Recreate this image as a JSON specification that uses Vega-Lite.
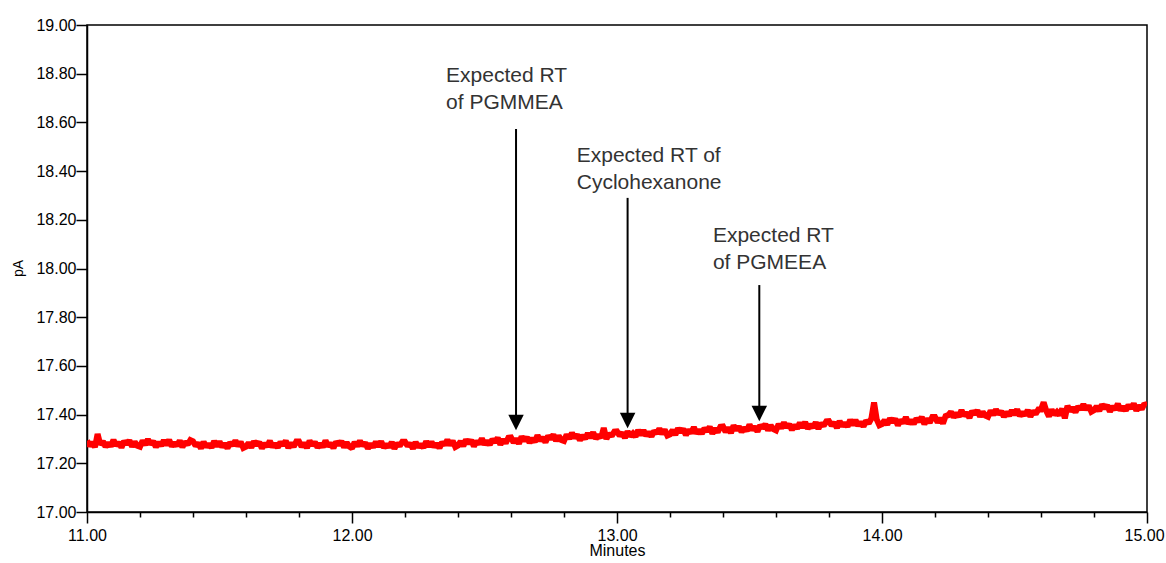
{
"$schema": "https://vega.github.io/schema/vega-lite/v6.json",
"width": 1060, "height": 487,
"autosize": "none",
"padding": {"left": 87, "top": 25, "right": 19, "bottom": 51},
"background": "white",
"config": {"view": {"stroke": "#000000", "strokeWidth": 1.5}, "font": "Liberation Sans"},
"datasets": {
"signal": [
{"t":11.00,"v":17.293},{"t":11.01,"v":17.271},{"t":11.02,"v":17.287},{"t":11.03,"v":17.266},{"t":11.04,"v":17.320},{"t":11.05,"v":17.277},{"t":11.06,"v":17.290},{"t":11.07,"v":17.268},{"t":11.08,"v":17.284},{"t":11.09,"v":17.270},
{"t":11.10,"v":17.296},{"t":11.11,"v":17.273},{"t":11.12,"v":17.286},{"t":11.13,"v":17.265},{"t":11.14,"v":17.291},{"t":11.15,"v":17.279},{"t":11.16,"v":17.294},{"t":11.17,"v":17.269},{"t":11.18,"v":17.288},{"t":11.19,"v":17.272},
{"t":11.20,"v":17.268},{"t":11.21,"v":17.293},{"t":11.22,"v":17.276},{"t":11.23,"v":17.298},{"t":11.24,"v":17.279},{"t":11.25,"v":17.290},{"t":11.26,"v":17.267},{"t":11.27,"v":17.286},{"t":11.28,"v":17.272},{"t":11.29,"v":17.294},
{"t":11.30,"v":17.275},{"t":11.31,"v":17.296},{"t":11.32,"v":17.270},{"t":11.33,"v":17.284},{"t":11.34,"v":17.273},{"t":11.35,"v":17.293},{"t":11.36,"v":17.266},{"t":11.37,"v":17.288},{"t":11.38,"v":17.277},{"t":11.39,"v":17.295},
{"t":11.40,"v":17.290},{"t":11.41,"v":17.272},{"t":11.42,"v":17.283},{"t":11.43,"v":17.261},{"t":11.44,"v":17.288},{"t":11.45,"v":17.268},{"t":11.46,"v":17.279},{"t":11.47,"v":17.265},{"t":11.48,"v":17.291},{"t":11.49,"v":17.270},
{"t":11.50,"v":17.289},{"t":11.51,"v":17.267},{"t":11.52,"v":17.281},{"t":11.53,"v":17.262},{"t":11.54,"v":17.285},{"t":11.55,"v":17.274},{"t":11.56,"v":17.293},{"t":11.57,"v":17.271},{"t":11.58,"v":17.288},{"t":11.59,"v":17.263},
{"t":11.60,"v":17.268},{"t":11.61,"v":17.284},{"t":11.62,"v":17.265},{"t":11.63,"v":17.290},{"t":11.64,"v":17.275},{"t":11.65,"v":17.287},{"t":11.66,"v":17.261},{"t":11.67,"v":17.282},{"t":11.68,"v":17.269},{"t":11.69,"v":17.292},
{"t":11.70,"v":17.267},{"t":11.71,"v":17.281},{"t":11.72,"v":17.265},{"t":11.73,"v":17.287},{"t":11.74,"v":17.274},{"t":11.75,"v":17.292},{"t":11.76,"v":17.263},{"t":11.77,"v":17.284},{"t":11.78,"v":17.268},{"t":11.79,"v":17.290},
{"t":11.80,"v":17.290},{"t":11.81,"v":17.268},{"t":11.82,"v":17.284},{"t":11.83,"v":17.263},{"t":11.84,"v":17.292},{"t":11.85,"v":17.274},{"t":11.86,"v":17.287},{"t":11.87,"v":17.265},{"t":11.88,"v":17.281},{"t":11.89,"v":17.267},
{"t":11.90,"v":17.293},{"t":11.91,"v":17.270},{"t":11.92,"v":17.283},{"t":11.93,"v":17.262},{"t":11.94,"v":17.288},{"t":11.95,"v":17.276},{"t":11.96,"v":17.291},{"t":11.97,"v":17.266},{"t":11.98,"v":17.285},{"t":11.99,"v":17.269},
{"t":12.00,"v":17.262},{"t":12.01,"v":17.287},{"t":12.02,"v":17.270},{"t":12.03,"v":17.292},{"t":12.04,"v":17.273},{"t":12.05,"v":17.284},{"t":12.06,"v":17.261},{"t":12.07,"v":17.280},{"t":12.08,"v":17.266},{"t":12.09,"v":17.288},
{"t":12.10,"v":17.269},{"t":12.11,"v":17.290},{"t":12.12,"v":17.264},{"t":12.13,"v":17.278},{"t":12.14,"v":17.267},{"t":12.15,"v":17.287},{"t":12.16,"v":17.260},{"t":12.17,"v":17.282},{"t":12.18,"v":17.271},{"t":12.19,"v":17.289},
{"t":12.20,"v":17.289},{"t":12.21,"v":17.271},{"t":12.22,"v":17.282},{"t":12.23,"v":17.260},{"t":12.24,"v":17.287},{"t":12.25,"v":17.267},{"t":12.26,"v":17.278},{"t":12.27,"v":17.264},{"t":12.28,"v":17.290},{"t":12.29,"v":17.269},
{"t":12.30,"v":17.288},{"t":12.31,"v":17.267},{"t":12.32,"v":17.281},{"t":12.33,"v":17.263},{"t":12.34,"v":17.286},{"t":12.35,"v":17.276},{"t":12.36,"v":17.296},{"t":12.37,"v":17.274},{"t":12.38,"v":17.292},{"t":12.39,"v":17.267},
{"t":12.40,"v":17.273},{"t":12.41,"v":17.290},{"t":12.42,"v":17.271},{"t":12.43,"v":17.297},{"t":12.44,"v":17.282},{"t":12.45,"v":17.295},{"t":12.46,"v":17.270},{"t":12.47,"v":17.291},{"t":12.48,"v":17.279},{"t":12.49,"v":17.302},
{"t":12.50,"v":17.277},{"t":12.51,"v":17.292},{"t":12.52,"v":17.276},{"t":12.53,"v":17.299},{"t":12.54,"v":17.286},{"t":12.55,"v":17.305},{"t":12.56,"v":17.277},{"t":12.57,"v":17.298},{"t":12.58,"v":17.283},{"t":12.59,"v":17.305},
{"t":12.60,"v":17.306},{"t":12.61,"v":17.285},{"t":12.62,"v":17.301},{"t":12.63,"v":17.281},{"t":12.64,"v":17.310},{"t":12.65,"v":17.293},{"t":12.66,"v":17.307},{"t":12.67,"v":17.285},{"t":12.68,"v":17.302},{"t":12.69,"v":17.288},
{"t":12.70,"v":17.315},{"t":12.71,"v":17.293},{"t":12.72,"v":17.306},{"t":12.73,"v":17.286},{"t":12.74,"v":17.312},{"t":12.75,"v":17.301},{"t":12.76,"v":17.317},{"t":12.77,"v":17.292},{"t":12.78,"v":17.312},{"t":12.79,"v":17.296},
{"t":12.80,"v":17.292},{"t":12.81,"v":17.318},{"t":12.82,"v":17.301},{"t":12.83,"v":17.324},{"t":12.84,"v":17.305},{"t":12.85,"v":17.317},{"t":12.86,"v":17.295},{"t":12.87,"v":17.314},{"t":12.88,"v":17.301},{"t":12.89,"v":17.323},
{"t":12.90,"v":17.305},{"t":12.91,"v":17.327},{"t":12.92,"v":17.301},{"t":12.93,"v":17.316},{"t":12.94,"v":17.305},{"t":12.95,"v":17.345},{"t":12.96,"v":17.300},{"t":12.97,"v":17.322},{"t":12.98,"v":17.312},{"t":12.99,"v":17.330},
{"t":13.00,"v":17.331},{"t":13.01,"v":17.314},{"t":13.02,"v":17.325},{"t":13.03,"v":17.304},{"t":13.04,"v":17.331},{"t":13.05,"v":17.312},{"t":13.06,"v":17.323},{"t":13.07,"v":17.310},{"t":13.08,"v":17.336},{"t":13.09,"v":17.316},
{"t":13.10,"v":17.335},{"t":13.11,"v":17.314},{"t":13.12,"v":17.328},{"t":13.13,"v":17.310},{"t":13.14,"v":17.333},{"t":13.15,"v":17.323},{"t":13.16,"v":17.342},{"t":13.17,"v":17.321},{"t":13.18,"v":17.338},{"t":13.19,"v":17.314},
{"t":13.20,"v":17.319},{"t":13.21,"v":17.336},{"t":13.22,"v":17.317},{"t":13.23,"v":17.343},{"t":13.24,"v":17.329},{"t":13.25,"v":17.341},{"t":13.26,"v":17.316},{"t":13.27,"v":17.337},{"t":13.28,"v":17.325},{"t":13.29,"v":17.348},
{"t":13.30,"v":17.323},{"t":13.31,"v":17.337},{"t":13.32,"v":17.322},{"t":13.33,"v":17.344},{"t":13.34,"v":17.332},{"t":13.35,"v":17.350},{"t":13.36,"v":17.322},{"t":13.37,"v":17.343},{"t":13.38,"v":17.328},{"t":13.39,"v":17.350},
{"t":13.40,"v":17.351},{"t":13.41,"v":17.329},{"t":13.42,"v":17.346},{"t":13.43,"v":17.325},{"t":13.44,"v":17.355},{"t":13.45,"v":17.337},{"t":13.46,"v":17.351},{"t":13.47,"v":17.329},{"t":13.48,"v":17.346},{"t":13.49,"v":17.333},
{"t":13.50,"v":17.359},{"t":13.51,"v":17.337},{"t":13.52,"v":17.350},{"t":13.53,"v":17.330},{"t":13.54,"v":17.356},{"t":13.55,"v":17.345},{"t":13.56,"v":17.360},{"t":13.57,"v":17.336},{"t":13.58,"v":17.355},{"t":13.59,"v":17.340},
{"t":13.60,"v":17.335},{"t":13.61,"v":17.361},{"t":13.62,"v":17.344},{"t":13.63,"v":17.367},{"t":13.64,"v":17.348},{"t":13.65,"v":17.360},{"t":13.66,"v":17.337},{"t":13.67,"v":17.357},{"t":13.68,"v":17.343},{"t":13.69,"v":17.366},
{"t":13.70,"v":17.347},{"t":13.71,"v":17.369},{"t":13.72,"v":17.343},{"t":13.73,"v":17.358},{"t":13.74,"v":17.348},{"t":13.75,"v":17.368},{"t":13.76,"v":17.342},{"t":13.77,"v":17.364},{"t":13.78,"v":17.354},{"t":13.79,"v":17.372},
{"t":13.80,"v":17.373},{"t":13.81,"v":17.355},{"t":13.82,"v":17.367},{"t":13.83,"v":17.345},{"t":13.84,"v":17.373},{"t":13.85,"v":17.353},{"t":13.86,"v":17.365},{"t":13.87,"v":17.351},{"t":13.88,"v":17.378},{"t":13.89,"v":17.357},
{"t":13.90,"v":17.377},{"t":13.91,"v":17.355},{"t":13.92,"v":17.370},{"t":13.93,"v":17.351},{"t":13.94,"v":17.375},{"t":13.95,"v":17.364},{"t":13.96,"v":17.384},{"t":13.97,"v":17.450},{"t":13.98,"v":17.380},{"t":13.99,"v":17.356},
{"t":14.00,"v":17.361},{"t":14.01,"v":17.377},{"t":14.02,"v":17.359},{"t":14.03,"v":17.384},{"t":14.04,"v":17.370},{"t":14.05,"v":17.382},{"t":14.06,"v":17.356},{"t":14.07,"v":17.378},{"t":14.08,"v":17.365},{"t":14.09,"v":17.389},
{"t":14.10,"v":17.363},{"t":14.11,"v":17.377},{"t":14.12,"v":17.362},{"t":14.13,"v":17.384},{"t":14.14,"v":17.372},{"t":14.15,"v":17.390},{"t":14.16,"v":17.361},{"t":14.17,"v":17.383},{"t":14.18,"v":17.367},{"t":14.19,"v":17.390},
{"t":14.20,"v":17.390},{"t":14.21,"v":17.368},{"t":14.22,"v":17.385},{"t":14.23,"v":17.364},{"t":14.24,"v":17.394},{"t":14.25,"v":17.398},{"t":14.26,"v":17.411},{"t":14.27,"v":17.389},{"t":14.28,"v":17.406},{"t":14.29,"v":17.392},
{"t":14.30,"v":17.418},{"t":14.31,"v":17.395},{"t":14.32,"v":17.408},{"t":14.33,"v":17.387},{"t":14.34,"v":17.414},{"t":14.35,"v":17.402},{"t":14.36,"v":17.417},{"t":14.37,"v":17.392},{"t":14.38,"v":17.411},{"t":14.39,"v":17.396},
{"t":14.40,"v":17.391},{"t":14.41,"v":17.416},{"t":14.42,"v":17.399},{"t":14.43,"v":17.421},{"t":14.44,"v":17.402},{"t":14.45,"v":17.414},{"t":14.46,"v":17.391},{"t":14.47,"v":17.410},{"t":14.48,"v":17.396},{"t":14.49,"v":17.418},
{"t":14.50,"v":17.400},{"t":14.51,"v":17.421},{"t":14.52,"v":17.395},{"t":14.53,"v":17.409},{"t":14.54,"v":17.398},{"t":14.55,"v":17.418},{"t":14.56,"v":17.392},{"t":14.57,"v":17.414},{"t":14.58,"v":17.403},{"t":14.59,"v":17.421},
{"t":14.60,"v":17.421},{"t":14.61,"v":17.450},{"t":14.62,"v":17.415},{"t":14.63,"v":17.393},{"t":14.64,"v":17.420},{"t":14.65,"v":17.400},{"t":14.66,"v":17.411},{"t":14.67,"v":17.398},{"t":14.68,"v":17.424},{"t":14.69,"v":17.385},
{"t":14.70,"v":17.436},{"t":14.71,"v":17.414},{"t":14.72,"v":17.429},{"t":14.73,"v":17.410},{"t":14.74,"v":17.433},{"t":14.75,"v":17.422},{"t":14.76,"v":17.442},{"t":14.77,"v":17.420},{"t":14.78,"v":17.437},{"t":14.79,"v":17.412},
{"t":14.80,"v":17.418},{"t":14.81,"v":17.434},{"t":14.82,"v":17.415},{"t":14.83,"v":17.441},{"t":14.84,"v":17.426},{"t":14.85,"v":17.438},{"t":14.86,"v":17.412},{"t":14.87,"v":17.434},{"t":14.88,"v":17.421},{"t":14.89,"v":17.444},
{"t":14.90,"v":17.418},{"t":14.91,"v":17.433},{"t":14.92,"v":17.417},{"t":14.93,"v":17.439},{"t":14.94,"v":17.426},{"t":14.95,"v":17.445},{"t":14.96,"v":17.416},{"t":14.97,"v":17.437},{"t":14.98,"v":17.422},{"t":14.99,"v":17.444},
{"t":15.00,"v":17.437}
],
"arrows": [
{"t":12.619,"top":18.573,"base":17.398,"head":17.368},
{"t":13.040,"top":18.290,"base":17.405,"head":17.376},
{"t":13.537,"top":17.932,"base":17.435,"head":17.405}
],
"labels": [
{"t":12.355,"v":18.766,"text":["Expected RT","of PGMMEA"]},
{"t":12.848,"v":18.439,"text":["Expected RT of","Cyclohexanone"]},
{"t":13.362,"v":18.110,"text":["Expected RT","of PGMEEA"]}
]
},
"layer": [
{
"data": {"name": "signal"},
"mark": {"type": "line", "color": "#ff0000", "strokeWidth": 6, "strokeJoin": "miter", "strokeMiterLimit": 1.5, "clip": true},
"encoding": {
"x": {"field": "t", "type": "quantitative",
 "scale": {"domain": [11, 15], "nice": false, "zero": false},
 "axis": {
  "title": "Minutes",
  "values": [11,11.1,11.2,11.3,11.4,11.5,11.6,11.7,11.8,11.9,12,12.1,12.2,12.3,12.4,12.5,12.6,12.7,12.8,12.9,13,13.1,13.2,13.3,13.4,13.5,13.6,13.7,13.8,13.9,14,14.1,14.2,14.3,14.4,14.5,14.6,14.7,14.8,14.9,15],
  "labelExpr": "abs(datum.value*2-round(datum.value*2))<0.001 ? format(datum.value,'.2f') : ''",
  "labelOverlap": false,
  "labelFlush": false,
  "labelOffset": {"condition": {"test": "datum.value > 14.95", "value": -3}, "value": 0},
  "grid": false,
  "tickSize": {"condition": {"test": "abs(datum.value*2-round(datum.value*2))<0.001", "value": 11}, "value": 5},
  "tickColor": "#000000", "tickWidth": 1.5,
  "domainColor": "#000000", "domainWidth": 1.5,
  "labelFont": "Liberation Sans", "labelFontSize": 16, "labelColor": "#000000", "labelPadding": 4,
  "titleFont": "Liberation Sans", "titleFontSize": 16, "titleFontWeight": "normal", "titleColor": "#000000",
  "titleY": 30, "titleBaseline": "top"
 }},
"y": {"field": "v", "type": "quantitative",
 "scale": {"domain": [17, 19], "nice": false, "zero": false},
 "axis": {
  "title": "pA",
  "values": [17,17.05,17.1,17.15,17.2,17.25,17.3,17.35,17.4,17.45,17.5,17.55,17.6,17.65,17.7,17.75,17.8,17.85,17.9,17.95,18,18.05,18.1,18.15,18.2,18.25,18.3,18.35,18.4,18.45,18.5,18.55,18.6,18.65,18.7,18.75,18.8,18.85,18.9,18.95,19],
  "labelExpr": "abs(datum.value*5-round(datum.value*5))<0.001 ? format(datum.value,'.2f') : ''",
  "labelOverlap": false,
  "labelFlush": false,
  "grid": false,
  "tickSize": {"condition": {"test": "abs(datum.value*5-round(datum.value*5))<0.001", "value": 11}, "value": 5},
  "tickColor": "#000000", "tickWidth": 1.5,
  "domainColor": "#000000", "domainWidth": 1.5,
  "labelFont": "Liberation Sans", "labelFontSize": 16, "labelColor": "#000000", "labelPadding": 0,
  "titleFont": "Liberation Sans", "titleFontSize": 14, "titleFontWeight": "normal", "titleColor": "#000000",
  "titleX": -69, "titleY": 243, "titleAlign": "center", "titleBaseline": "middle", "titleAngle": -90
 }}
}
},
{
"data": {"name": "arrows"},
"mark": {"type": "rule", "color": "#000000", "strokeWidth": 2},
"encoding": {
"x": {"field": "t", "type": "quantitative"},
"y": {"field": "top", "type": "quantitative"},
"y2": {"field": "base"}
}
},
{
"data": {"name": "arrows"},
"mark": {"type": "point", "shape": "M-1,-1L1,-1L0,1Z", "size": 240, "filled": true, "color": "#000000", "opacity": 1},
"encoding": {
"x": {"field": "t", "type": "quantitative"},
"y": {"field": "head", "type": "quantitative"}
}
},
{
"data": {"name": "labels"},
"mark": {"type": "text", "align": "left", "baseline": "alphabetic", "font": "Liberation Sans", "fontSize": 21, "lineHeight": 27.5, "color": "#333333"},
"encoding": {
"x": {"field": "t", "type": "quantitative"},
"y": {"field": "v", "type": "quantitative"},
"text": {"field": "text"}
}
}
]
}
